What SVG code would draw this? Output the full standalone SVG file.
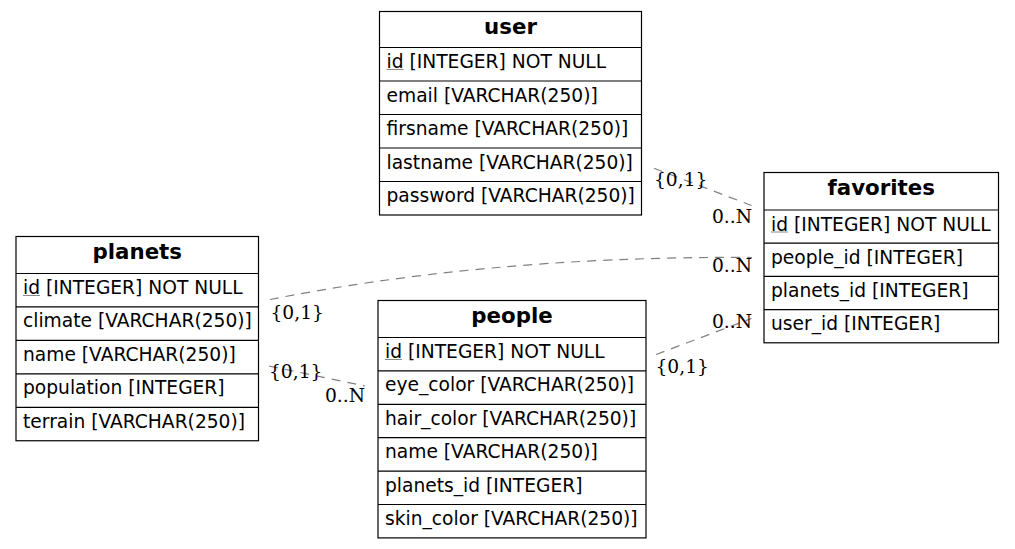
<svg xmlns="http://www.w3.org/2000/svg" width="1015" height="549" viewBox="0 0 1015 549">
<style>
.box{fill:#fff;stroke:#000;stroke-width:1.2}
.sep{stroke:#000;stroke-width:1.2}
.hdr{font-family:"DejaVu Sans",sans-serif;font-weight:bold;font-size:21.33px;text-anchor:middle;fill:#000}
.row{font-family:"DejaVu Sans",sans-serif;font-size:18.67px;fill:#000}
.ul{stroke:#8a8a8a;stroke-width:1}
.edge{fill:none;stroke:#808080;stroke-width:1.2;stroke-dasharray:9,7}
.lbl{font-family:"DejaVu Serif",serif;font-size:18.67px;fill:#000}
.end{text-anchor:end}
</style>
<rect width="1015" height="549" fill="#fff"/>
<g id="connectors">
<path class="edge" d="M654,168.3 L751.5,205.5"/>
<path class="edge" d="M270,299.5 C400,274 560,256 752,257.5"/>
<path class="edge" d="M656,354.5 L751.5,318.5"/>
<path class="edge" d="M269,366 L365,386"/>
<text class="lbl" x="654" y="186">{0,1}</text>
<text class="lbl end" x="752" y="223.3">0..N</text>
<text class="lbl" x="270.5" y="319">{0,1}</text>
<text class="lbl end" x="752" y="272.3">0..N</text>
<text class="lbl end" x="752" y="328.3">0..N</text>
<text class="lbl" x="655.5" y="372.7">{0,1}</text>
<text class="lbl" x="269" y="378.3">{0,1}</text>
<text class="lbl end" x="365" y="401.7">0..N</text>
</g>
<g id="user">
<rect class="box" x="379.5" y="11.5" width="262" height="203.5"/>
<path class="sep" d="M379.5,47.5H641.5M379.5,81H641.5M379.5,114.5H641.5M379.5,148H641.5M379.5,181.5H641.5"/>
<text class="hdr" x="510.5" y="34">user</text>
<text class="row" x="386.5" y="68">id [INTEGER] NOT NULL</text>
<line class="ul" x1="386.5" y1="69.5" x2="403.5" y2="69.5"/>
<text class="row" x="386.5" y="101.5">email [VARCHAR(250)]</text>
<text class="row" x="386.5" y="135">firsname [VARCHAR(250)]</text>
<text class="row" x="386.5" y="168.5">lastname [VARCHAR(250)]</text>
<text class="row" x="386.5" y="202">password [VARCHAR(250)]</text>
</g>
<g id="favorites">
<rect class="box" x="764" y="172.5" width="234.5" height="170.3"/>
<path class="sep" d="M764,210H998.5M764,243.2H998.5M764,276.4H998.5M764,309.6H998.5"/>
<text class="hdr" x="881.25" y="195">favorites</text>
<text class="row" x="771" y="230.5">id [INTEGER] NOT NULL</text>
<line class="ul" x1="771" y1="232" x2="788" y2="232"/>
<text class="row" x="771" y="263.7">people_id [INTEGER]</text>
<text class="row" x="771" y="296.9">planets_id [INTEGER]</text>
<text class="row" x="771" y="330.1">user_id [INTEGER]</text>
</g>
<g id="planets">
<rect class="box" x="16" y="236.5" width="242.5" height="204.25"/>
<path class="sep" d="M16,273.5H258.5M16,306.95H258.5M16,340.4H258.5M16,373.85H258.5M16,407.3H258.5"/>
<text class="hdr" x="137.25" y="259">planets</text>
<text class="row" x="23" y="294">id [INTEGER] NOT NULL</text>
<line class="ul" x1="23" y1="295.5" x2="40" y2="295.5"/>
<text class="row" x="23" y="327.45">climate [VARCHAR(250)]</text>
<text class="row" x="23" y="360.9">name [VARCHAR(250)]</text>
<text class="row" x="23" y="394.35">population [INTEGER]</text>
<text class="row" x="23" y="427.8">terrain [VARCHAR(250)]</text>
</g>
<g id="people">
<rect class="box" x="378" y="300.5" width="268" height="237.4"/>
<path class="sep" d="M378,337.5H646M378,370.9H646M378,404.3H646M378,437.7H646M378,471.1H646M378,504.5H646"/>
<text class="hdr" x="512" y="323">people</text>
<text class="row" x="385" y="358">id [INTEGER] NOT NULL</text>
<line class="ul" x1="385" y1="359.5" x2="402" y2="359.5"/>
<text class="row" x="385" y="391.4">eye_color [VARCHAR(250)]</text>
<text class="row" x="385" y="424.8">hair_color [VARCHAR(250)]</text>
<text class="row" x="385" y="458.2">name [VARCHAR(250)]</text>
<text class="row" x="385" y="491.6">planets_id [INTEGER]</text>
<text class="row" x="385" y="525">skin_color [VARCHAR(250)]</text>
</g>
</svg>
